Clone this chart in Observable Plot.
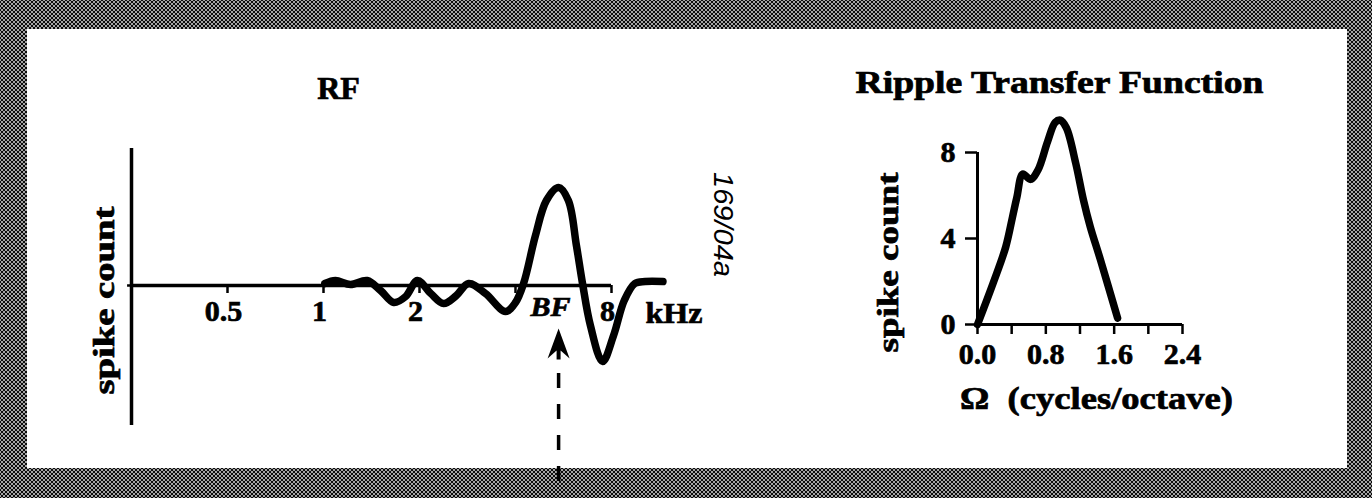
<!DOCTYPE html>
<html>
<head>
<meta charset="utf-8">
<script src="https://cdn.jsdelivr.net/npm/d3@7"></script>
<script src="https://cdn.jsdelivr.net/npm/@observablehq/plot@0.6"></script>
<style>
html, body { margin: 0; padding: 0; background: #fff; }
#frame {
  position: relative; width: 1372px; height: 498px; overflow: hidden;
  background-color: #0c0c0c;
  background-image:
    radial-gradient(circle at center, #cfcfcf 0 0.6px, transparent 1.1px),
    radial-gradient(circle at center, #cfcfcf 0 0.6px, transparent 1.1px);
  background-size: 4px 4px;
  background-position: 0 0, 2px 2px;
}
#panel { position: absolute; left: 27px; top: 29px; width: 1320px; height: 439px; background: #fff; }
#frame svg { position: absolute; left: 0; top: 0; }
#frame svg text { white-space: pre; }
</style>
</head>
<body>
<div id="frame"><div id="panel"></div></div>
<script>
// ---------- data: RF (response vs. frequency, arbitrary spike-count units) ----------
const rfFreqKHz = [1.01, 1.09, 1.215, 1.37, 1.51, 1.66, 1.81, 1.97, 2.17, 2.38, 2.61, 2.85, 3.22, 3.72, 4.0, 4.24, 4.62, 5.0, 5.46, 5.86, 6.21, 6.49, 6.87, 7.5, 8.12, 8.77, 9.47, 10.2, 11.6];
const rfSpikes  = [0.2, 0.5, 0.1, 0.5, -0.5, -1.7, -1.1, 0.5, -0.8, -1.8, -1.0, 0.2, -0.8, -2.6, -1.7, 0.2, 5.0, 8.5, 9.8, 8.5, 4.0, 0.2, -4.0, -7.6, -5.0, -1.5, 0.2, 0.4, 0.4];
const rfTickKHz = [0.5, 1, 2, 4, 8];
const rfTickLabels = ["0.5", "1", "2", "", "8"];
const bfKHz = 5.46;

// ---------- data: Ripple Transfer Function ----------
const omega     = [0, 0.19, 0.33, 0.41, 0.46, 0.53, 0.62, 0.71, 0.82, 0.91, 0.97, 1.04, 1.15, 1.24, 1.32, 1.44, 1.64];
const rtfSpikes = [0, 2.0, 3.6, 5.0, 5.9, 7.0, 6.75, 7.2, 8.5, 9.4, 9.5, 9.15, 7.5, 5.8, 4.55, 3.0, 0.3];
const omegaTicks = [0, 0.4, 0.8, 1.2, 1.6, 2.0, 2.4];
const omegaTickLabels = ["0.0", "", "0.8", "", "1.6", "", "2.4"];
const rtfYTicks = [0, 4, 8];

// ---------- text ----------
const rfTitle = "RF";
const rtfTitle = "Ripple Transfer Function";
const yLabel = "spike count";
const xUnit = "kHz";
const bfLabel = "BF";
const unitId = "169/04a";
const omegaLabel = "Ω  (cycles/octave)";

const W = 1372, H = 498;
const serif = "'Liberation Serif', 'Times New Roman', serif";

const rf = rfFreqKHz.map((f, i) => ({f, v: rfSpikes[i]}));
const rfTicks = rfTickKHz.map((f, i) => ({f, label: rfTickLabels[i]}));
const rtf = omega.map((o, i) => ({o, s: rtfSpikes[i]}));
const omegaFmt = new Map(omegaTicks.map((t, i) => [t, omegaTickLabels[i]]));

// notched arrow head, tip at the origin, pointing up
const arrowHead = {
  draw(ctx) {
    ctx.moveTo(0, 0);
    ctx.lineTo(11, 30);
    ctx.lineTo(2, 22);
    ctx.lineTo(2, 31);
    ctx.lineTo(-2, 31);
    ctx.lineTo(-2, 22);
    ctx.lineTo(-11, 30);
    ctx.closePath();
  }
};

// stretched lettering lengths measured on the reference; placed with start anchors
const LEN = {yLeft: 188, kHz: 57, bf: 40, unit: 105, title: 408, yRight: 180, omega: 273};

const L = {left: 131, right: 611, top: 145, bottom: 425};
const left = Plot.plot({
  width: W, height: H,
  marginLeft: L.left, marginRight: W - L.right, marginTop: L.top, marginBottom: H - L.bottom,
  style: {background: "transparent", overflow: "visible", color: "black", fontFamily: serif},
  x: {type: "log", domain: [0.25, 8], axis: null},
  y: {domain: [-14, 14], axis: null},
  marks: [
    Plot.ruleY([0], {x1: 0.25, x2: 8, strokeWidth: 3.5}),
    Plot.ruleX([0.25], {y1: -14, y2: 13.7, strokeWidth: 3.5}),
    Plot.ruleY([0], {x1: 0.243, x2: 0.267, strokeWidth: 2.5}),
    Plot.ruleX(rfTicks, {x: "f", y1: 0, y2: -0.8, strokeWidth: 2.5}),
    Plot.text(rfTicks, {x: "f", y: 0, text: "label", dx: -4, dy: 26, fontSize: 30, fontWeight: "bold", fontFamily: serif}),
    Plot.text([bfKHz], {x: d => d, y: 0, text: () => bfLabel, textAnchor: "start", dx: -8 - LEN.bf / 2, dy: 22, fontSize: 28, fontWeight: "bold", fontStyle: "italic", fontFamily: serif}),
    Plot.text([xUnit], {frameAnchor: "top-left", dx: 645 - L.left, dy: 322 - L.top, lineAnchor: "bottom", textAnchor: "start", fontSize: 29, fontWeight: "bold", fontFamily: serif}),
    Plot.line(rf, {x: "f", y: "v", strokeWidth: 7.5, curve: "catmull-rom", strokeLinejoin: "round"}),
    Plot.ruleX([bfKHz], {y1: -8.8, y2: -19.8, strokeWidth: 3.5, strokeDasharray: "15,16"}),
    Plot.dot([bfKHz], {x: d => d, y: -4.3, symbol: arrowHead, fill: "black", stroke: "none"}),
    Plot.text([rfTitle], {frameAnchor: "top-left", dx: 338 - L.left, dy: 98 - L.top, textAnchor: "middle", lineAnchor: "bottom", fontSize: 32, fontWeight: "bold", fontFamily: serif}),
    Plot.text([yLabel], {frameAnchor: "top-left", dx: 104 - L.left, dy: 300 + LEN.yLeft / 2 - L.top, rotate: -90, textAnchor: "start", lineAnchor: "middle", fontSize: 29, fontWeight: "bold", fontFamily: serif}),
    Plot.text([unitId], {frameAnchor: "top-left", dx: 722 - L.left, dy: 224 - LEN.unit / 2 - L.top, rotate: 90, textAnchor: "start", lineAnchor: "middle", fontSize: 28, fontStyle: "italic", fontWeight: "normal", fontFamily: "'Liberation Sans', Arial, sans-serif"})
  ]
});

const R = {left: 977, right: 1182, top: 152, bottom: 324};
const right = Plot.plot({
  width: W, height: H,
  marginLeft: R.left, marginRight: W - R.right, marginTop: R.top, marginBottom: H - R.bottom,
  style: {background: "transparent", overflow: "visible", color: "black", fontFamily: serif},
  x: {domain: [0, 2.4]},
  y: {domain: [0, 8]},
  marks: [
    Plot.axisX({ticks: omegaTicks, tickFormat: d => omegaFmt.get(d) ?? "", tickSize: 10, tickPadding: 8, fontSize: 30, fontWeight: "bold", fontFamily: serif, strokeWidth: 2.5, label: null}),
    Plot.axisY({ticks: rtfYTicks, tickFormat: d => String(d), tickSize: 12, tickPadding: 10, fontSize: 30, fontWeight: "bold", fontFamily: serif, strokeWidth: 2.5, label: null}),
    Plot.ruleY([0], {x1: 0, x2: 2.4, strokeWidth: 3}),
    Plot.ruleX([0], {y1: 0, y2: 8, strokeWidth: 3}),
    Plot.line(rtf, {x: "o", y: "s", strokeWidth: 7.5, curve: "catmull-rom", strokeLinejoin: "round"}),
    Plot.text([rtfTitle], {frameAnchor: "top-left", dx: 1059 - LEN.title / 2 - R.left, dy: 92 - R.top, textAnchor: "start", lineAnchor: "bottom", fontSize: 31, fontWeight: "bold", fontFamily: serif}),
    Plot.text([yLabel], {frameAnchor: "top-left", dx: 888 - R.left, dy: 262 + LEN.yRight / 2 - R.top, rotate: -90, textAnchor: "start", lineAnchor: "middle", fontSize: 29, fontWeight: "bold", fontFamily: serif}),
    Plot.text([omegaLabel], {frameAnchor: "top-left", dx: 1096 - LEN.omega / 2 - R.left, dy: 408 - R.top, textAnchor: "start", lineAnchor: "bottom", fontSize: 31, fontWeight: "bold", fontFamily: serif})
  ]
});

const frame = document.getElementById("frame");
frame.appendChild(left);
frame.appendChild(right);

// stretch the wide lettering to the widths measured on the reference
const lengths = [
  [left, yLabel, LEN.yLeft], [left, xUnit, LEN.kHz], [left, bfLabel, LEN.bf], [left, unitId, LEN.unit],
  [right, rtfTitle, LEN.title], [right, yLabel, LEN.yRight], [right, omegaLabel, LEN.omega]
];
for (const [svg, txt, len] of lengths) {
  d3.select(svg).selectAll("text").filter(function() { return this.textContent === txt; })
    .attr("textLength", len).attr("lengthAdjust", "spacingAndGlyphs");
}
// heavier, scan-like bold lettering (the small sans ID stays regular)
for (const svg of [left, right]) {
  d3.select(svg).selectAll("text").filter(function() { return this.textContent !== unitId; })
    .style("stroke", "black").style("stroke-width", "0.7px");
}
</script>
</body>
</html>
